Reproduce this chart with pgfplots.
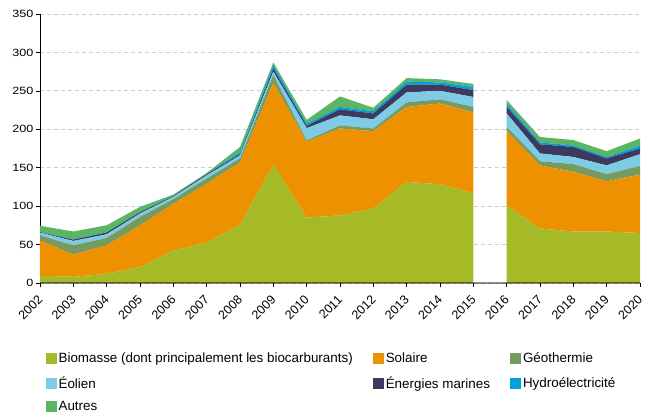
\documentclass[border=0pt]{standalone}
\usepackage{fontspec}
\setmainfont{Liberation Sans}
\usepackage{pgfplots}
\usepackage{pgfplotstable}
\pgfplotsset{compat=1.18}
\definecolor{biom}{HTML}{A6B927}
\definecolor{sol}{HTML}{EE9100}
\definecolor{geo}{HTML}{759B60}
\definecolor{eol}{HTML}{7ECBE5}
\definecolor{mar}{HTML}{3E3A5E}
\definecolor{hyd}{HTML}{00A1DA}
\definecolor{aut}{HTML}{5CB562}

\pgfplotstableread{
year bio sol geo eol mar hyd aut
2002 9.5 46 6.5 3.5 0.5 0.5 8
2003 8 29 12 5.7 1.7 0.6 10
2004 12 37 9.6 4.8 2.2 0.5 9
2005 21 54 11 4.3 1.7 0.5 6.5
2006 42 61 6 3 1 0.5 1.5
2007 52.5 76.5 7 4 1.5 0.5 1
2008 76 81 5 4 1.5 2.5 7
2009 154 106 10.5 4.5 4 4 4
2010 85 99 1.5 16 3 2.7 5
2011 88 113 4 13 8 3 13.7
2012 97 100.6 3.4 12 7.6 3 4.4
2013 131.6 97.4 6 13 10 4 4.6
2014 128.5 105 5.5 11 8 3 4
2015 117 105 7 13 9 4 4
}\dataA

\pgfplotstableread{
year bio sol geo eol mar hyd aut
2016 101 97 5 17.6 8.4 4 5
2017 71 82 5.5 10 12 2.4 7
2018 67 77.6 10 9.4 13 2 7
2019 67 65.4 9.2 11.4 9 2 7.5
2020 65 76 11.4 15.2 7.4 3.5 9.5
}\dataB

\begin{document}
\begin{tikzpicture}
\begin{axis}[
  scale only axis, width=600pt, height=269pt,
  xmin=2002, xmax=2020, ymin=0, ymax=350,
  axis lines*=left,
  x axis line style={draw=none},
  y axis line style={black, line width=0.8pt},
  stack plots=y,
  ytick={0,50,...,350},
  xtick={2002,...,2020},
  ymajorgrids,
  major grid style={color=black!20, dash pattern=on 4pt off 3pt, line width=0.9pt},
  tick align=outside, major tick length=4pt,
  tick style={black, line width=0.6pt},
  yticklabel style={font=\fontsize{10.5}{12}\selectfont, xscale=1.2, inner sep=2pt},
  xticklabel style={font=\fontsize{12.5}{13}\selectfont, xshift=-3pt, yshift=-6pt, rotate=45, anchor=north east, inner sep=1pt},
  /pgf/number format/assume math mode=true,
  /pgf/number format/1000 sep={},
  legend columns=3,
  legend cell align=left,
  legend style={at={(axis description cs:0.004,-0.245)}, anchor=north west, draw=none,
     font=\fontsize{13.4}{15}\selectfont, row sep=8pt,
     /tikz/every even column/.append style={column sep=18pt}},
  legend image code/.code={\fill[#1] (0pt,-5.5pt) rectangle (11pt,5.5pt);},
]
\addplot[fill=biom, draw=none] table[x=year,y=bio]{\dataA} \closedcycle;
\addlegendentry{Biomasse (dont principalement les biocarburants)}
\addplot[fill=sol, draw=none] table[x=year,y=sol]{\dataA} \closedcycle;
\addlegendentry{Solaire}
\addplot[fill=geo, draw=none] table[x=year,y=geo]{\dataA} \closedcycle;
\addlegendentry{Géothermie}
\addplot[fill=eol, draw=none] table[x=year,y=eol]{\dataA} \closedcycle;
\addlegendentry{Éolien}
\addplot[fill=mar, draw=none] table[x=year,y=mar]{\dataA} \closedcycle;
\addlegendentry{Énergies marines}
\addplot[fill=hyd, draw=none] table[x=year,y=hyd]{\dataA} \closedcycle;
\addlegendentry{Hydroélectricité}
\addplot[fill=aut, draw=none] table[x=year,y=aut]{\dataA} \closedcycle;
\addlegendentry{Autres}
\end{axis}
\begin{axis}[
  scale only axis, width=600pt, height=269pt,
  xmin=2002, xmax=2020, ymin=0, ymax=350,
  axis on top,
  axis x line*=bottom, axis y line=none,
  xtick=\empty, ytick=\empty,
  x axis line style={draw=black, opacity=0.45, line width=1.5pt},
  stack plots=y,
]
\addplot[fill=biom, draw=none, forget plot] table[x=year,y=bio]{\dataB} \closedcycle;
\addplot[fill=sol, draw=none, forget plot] table[x=year,y=sol]{\dataB} \closedcycle;
\addplot[fill=geo, draw=none, forget plot] table[x=year,y=geo]{\dataB} \closedcycle;
\addplot[fill=eol, draw=none, forget plot] table[x=year,y=eol]{\dataB} \closedcycle;
\addplot[fill=mar, draw=none, forget plot] table[x=year,y=mar]{\dataB} \closedcycle;
\addplot[fill=hyd, draw=none, forget plot] table[x=year,y=hyd]{\dataB} \closedcycle;
\addplot[fill=aut, draw=none, forget plot] table[x=year,y=aut]{\dataB} \closedcycle;
\end{axis}
\path (current axis.south west) ++(-40pt,-127pt) rectangle ++(646pt,410pt);
\end{tikzpicture}
\end{document}
